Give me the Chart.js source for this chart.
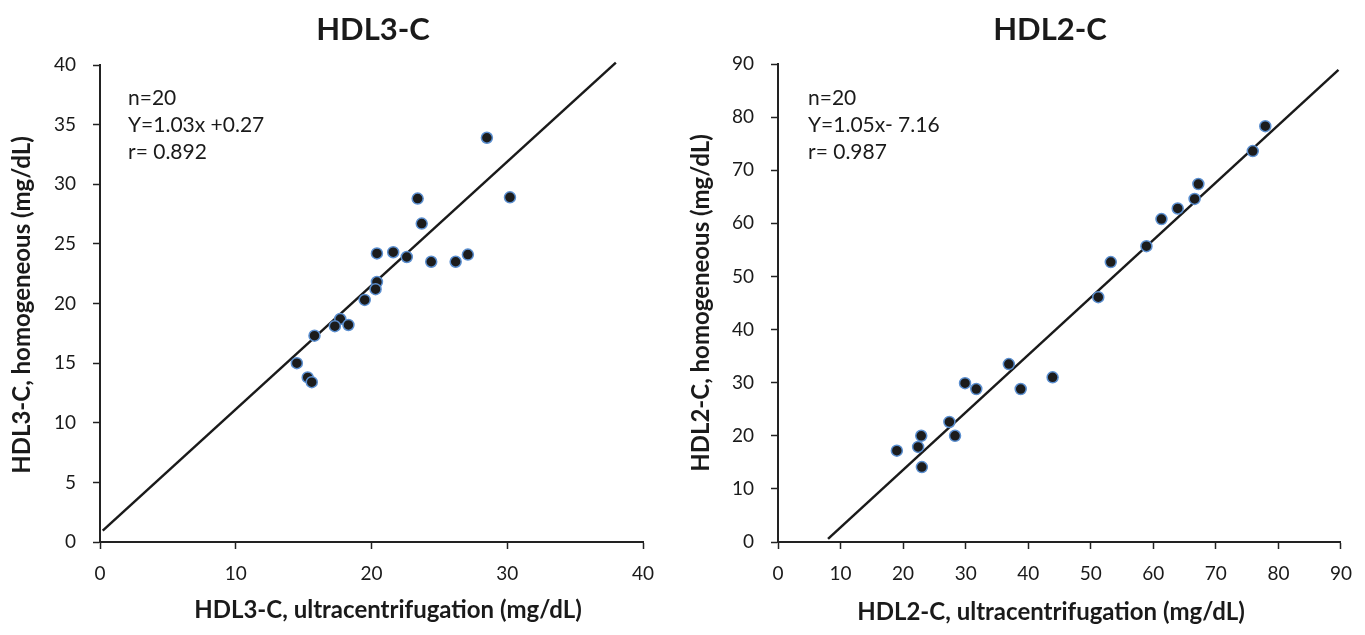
<!DOCTYPE html>
<html>
<head>
<meta charset="utf-8">
<script src="https://cdn.jsdelivr.net/npm/chart.js@4"></script>
<style>
html, body { margin: 0; padding: 0; background: #fff; }
#wrap { display: flex; width: 1365px; height: 635px; }
</style>
</head>
<body>
<div id="wrap">
  <canvas id="chartHdl3" width="682" height="635"></canvas>
  <canvas id="chartHdl2" width="683" height="635"></canvas>
</div>
<script>
// HDL3-C: ultracentrifugation (x) vs homogeneous (y)
const hdl3Ultra = [28.5, 30.2, 23.4, 23.7, 20.4, 21.6, 22.6, 24.4, 26.2, 27.1,
                   20.4, 20.3, 19.5, 17.7, 17.3, 18.3, 15.8, 14.5, 15.3, 15.6];
const hdl3Homog = [33.9, 28.9, 28.8, 26.7, 24.2, 24.3, 23.9, 23.5, 23.5, 24.1,
                   21.8, 21.2, 20.3, 18.7, 18.1, 18.2, 17.3, 15.0, 13.8, 13.4];
const hdl3LineX = [0.2, 38.0];
const hdl3LineY = [0.95, 40.2];

// HDL2-C
const hdl2Ultra = [77.9, 75.9, 67.2, 66.6, 63.9, 61.3, 58.9, 53.2, 51.2, 29.9,
                   31.7, 38.8, 43.9, 36.9, 27.4, 28.3, 22.9, 22.4, 19.0, 23.0];
const hdl2Homog = [78.3, 73.6, 67.4, 64.6, 62.8, 60.8, 55.7, 52.7, 46.1, 29.9,
                   28.8, 28.8, 31.0, 33.5, 22.6, 20.0, 20.0, 17.9, 17.2, 14.1];
const hdl2LineX = [8.0, 89.6];
const hdl2LineY = [0.6, 88.9];

const textPlugin = {
  id: 'texts',
  afterDraw(chart, args, o) {
    const ctx = chart.ctx;
    ctx.save();
    ctx.fillStyle = '#1a1a1a';
    ctx.textBaseline = 'middle';
    ctx.textAlign = 'center';
    ctx.font = 'bold 31px Lato';
    ctx.fillText(o.title, o.titleX, 30);
    ctx.font = 'bold 24px Lato';
    ctx.fillText(o.xTitle, o.xTitleX, o.xTitleY);
    ctx.save();
    ctx.translate(o.yTitleX, o.yTitleY);
    ctx.rotate(-Math.PI / 2);
    ctx.fillText(o.yTitle, 0, 0);
    ctx.restore();
    ctx.textAlign = 'left';
    ctx.font = '21px Lato';
    o.notes.forEach((t, i) => ctx.fillText(t, o.noteX, 98 + i * 27));
    ctx.restore();
  }
};

function makeChart(id, xs, ys, lx, ly, xMax, yMax, yStep, pad, texts) {
  const axisFont = { family: 'Lato', size: 19 };
  new Chart(document.getElementById(id), {
    type: 'scatter',
    data: {
      datasets: [{
        data: xs.map((x, i) => ({ x: x, y: ys[i] })),
        backgroundColor: '#1c1c1c',
        borderColor: '#5b8fd0',
        borderWidth: 1.5,
        pointRadius: 5.5
      }, {
        type: 'line',
        data: lx.map((x, i) => ({ x: x, y: ly[i] })),
        borderColor: '#1a1a1a',
        borderWidth: 2.5,
        pointRadius: 0,
        clip: false
      }]
    },
    options: {
      responsive: false,
      animation: false,
      layout: { padding: { left: 0, right: pad.right, top: pad.top, bottom: 0 } },
      plugins: { legend: { display: false }, tooltip: { enabled: false }, texts: texts },
      scales: {
        x: {
          type: 'linear', min: 0, max: xMax,
          ticks: { stepSize: 10, color: '#1a1a1a', font: axisFont, padding: 13 },
          grid: { drawOnChartArea: false, tickLength: 7, tickColor: '#222', tickWidth: 1.5 },
          border: { color: '#222', width: 2 },
          afterFit: s => { s.height = 93; }
        },
        y: {
          type: 'linear', min: 0, max: yMax,
          ticks: { stepSize: yStep, color: '#1a1a1a', font: axisFont, padding: 17 },
          grid: { drawOnChartArea: false, tickLength: 7, tickColor: '#222', tickWidth: 1.5 },
          border: { color: '#222', width: 2 },
          afterFit: s => { s.width = pad.left; }
        }
      }
    },
    plugins: [textPlugin]
  });
}

makeChart('chartHdl3', hdl3Ultra, hdl3Homog, hdl3LineX, hdl3LineY, 40, 40, 5,
  { left: 100, right: 39, top: 65 },
  { title: 'HDL3-C', titleX: 373,
    xTitle: 'HDL3-C, ultracentrifugation (mg/dL)', xTitleX: 388, xTitleY: 610,
    yTitle: 'HDL3-C, homogeneous (mg/dL)', yTitleX: 22, yTitleY: 305,
    notes: ['n=20', 'Y=1.03x +0.27', 'r= 0.892'], noteX: 128 });

makeChart('chartHdl2', hdl2Ultra, hdl2Homog, hdl2LineX, hdl2LineY, 90, 90, 10,
  { left: 96, right: 23, top: 64 },
  { title: 'HDL2-C', titleX: 368,
    xTitle: 'HDL2-C, ultracentrifugation (mg/dL)', xTitleX: 369, xTitleY: 612,
    yTitle: 'HDL2-C, homogeneous (mg/dL)', yTitleX: 19, yTitleY: 303,
    notes: ['n=20', 'Y=1.05x- 7.16', 'r= 0.987'], noteX: 126 });
</script>
</body>
</html>
